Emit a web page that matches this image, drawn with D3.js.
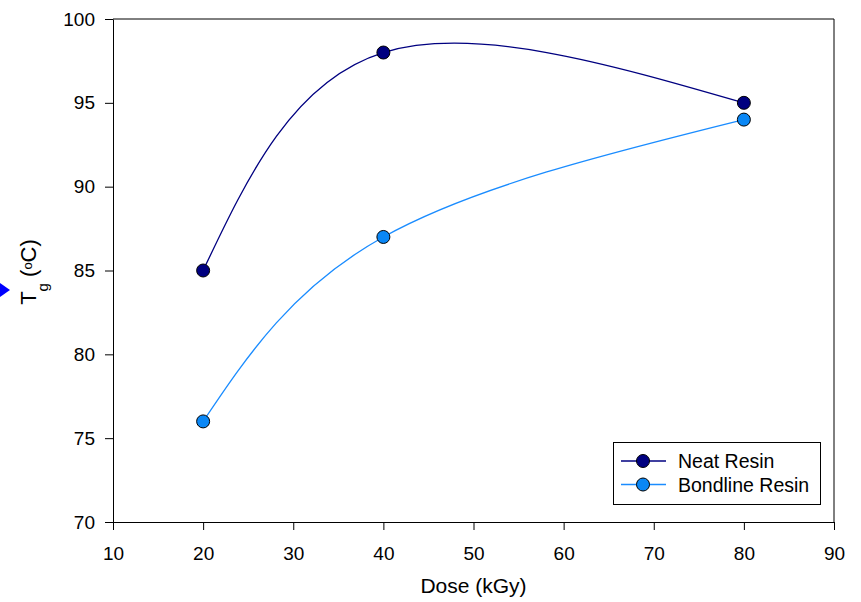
<!DOCTYPE html>
<html>
<head>
<meta charset="utf-8">
<script src="https://cdn.jsdelivr.net/npm/d3@7"></script>
<style>
  body { margin: 0; background: #fff; }
  svg { display: block; font-family: "Liberation Sans", Arial, sans-serif; }
</style>
</head>
<body>
<svg id="chart" width="861" height="602"></svg>
<script>
// Glass transition temperature vs. irradiation dose
const doses = [20, 40, 80];
const neatResin = [85, 98, 95];
const bondlineResin = [76, 87, 94];
const seriesNames = ["Neat Resin", "Bondline Resin"];
const xTicks = [10, 20, 30, 40, 50, 60, 70, 80, 90];
const yTicks = [70, 75, 80, 85, 90, 95, 100];

const svg = d3.select("#chart");
const plotLeft = 113, plotRight = 834, plotTop = 19, plotBottom = 522;
const font = "Liberation Sans, Arial, sans-serif";

const x = d3.scaleLinear().domain([10, 90]).range([plotLeft, plotRight]);
const y = d3.scaleLinear().domain([70, 100]).range([plotBottom, plotTop]);

// frame (top and right edges)
svg.append("path")
  .attr("d", `M${plotLeft},${plotTop}H${plotRight}V${plotBottom}`)
  .attr("fill", "none").attr("stroke", "#000").attr("stroke-width", 1);

const xAxis = svg.append("g")
  .attr("transform", `translate(0,${plotBottom})`)
  .call(d3.axisBottom(x).tickValues(xTicks).tickSize(8).tickSizeOuter(0));
const yAxis = svg.append("g")
  .attr("transform", `translate(${plotLeft},0)`)
  .call(d3.axisLeft(y).tickValues(yTicks).tickSize(8).tickPadding(10).tickSizeOuter(0));
[xAxis, yAxis].forEach(g => {
  g.attr("font-size", 19).attr("font-family", font);
  g.selectAll("text").attr("fill", "#000");
  g.selectAll("line, path").attr("stroke", "#000");
});
xAxis.selectAll("text").attr("y", 38).attr("dy", 0);

// axis titles
svg.append("text")
  .attr("x", (plotLeft + plotRight) / 2).attr("y", 593)
  .attr("text-anchor", "middle").attr("font-size", 21)
  .text("Dose (kGy)");

const yTitle = svg.append("text")
  .attr("transform", "translate(36,272) rotate(-90)")
  .attr("text-anchor", "middle").attr("font-size", 22);
yTitle.append("tspan").text("T");
yTitle.append("tspan").attr("font-size", 15).attr("dy", 12).text("g");
yTitle.append("tspan").attr("dy", -12).text(" (");
yTitle.append("tspan").attr("font-size", 13).attr("dy", -4).text("o");
yTitle.append("tspan").attr("dy", 4).text("C)");

// small marker at left edge
svg.append("path")
  .attr("d", "M0,283L10,290L0,297Z")
  .attr("fill", "#0000ff");

const series = [
  { name: seriesNames[0], values: neatResin, color: "#000080", line: "#000080" },
  { name: seriesNames[1], values: bondlineResin, color: "#0a87f5", line: "#1a8cff" }
];

const line = d3.line()
  .x((d, i) => x(doses[i]))
  .y(d => y(d))
  .curve(d3.curveNatural);

series.forEach(s => {
  svg.append("path")
    .datum(s.values)
    .attr("d", line)
    .attr("fill", "none")
    .attr("stroke", s.line)
    .attr("stroke-width", 1.3);
});
series.forEach(s => {
  svg.selectAll(null)
    .data(s.values)
    .enter().append("circle")
    .attr("cx", (d, i) => x(doses[i]))
    .attr("cy", d => y(d))
    .attr("r", 6.5)
    .attr("fill", s.color)
    .attr("stroke", "#000")
    .attr("stroke-width", 1);
});

// legend
const lg = svg.append("g");
lg.append("rect")
  .attr("x", 613.5).attr("y", 442.5).attr("width", 207).attr("height", 62)
  .attr("fill", "#fff").attr("stroke", "#000").attr("stroke-width", 1);
series.forEach((s, i) => {
  const yy = 461 + i * 23.5;
  lg.append("line")
    .attr("x1", 621).attr("x2", 666).attr("y1", yy).attr("y2", yy)
    .attr("stroke", s.line).attr("stroke-width", 1.3);
  lg.append("circle")
    .attr("cx", 643).attr("cy", yy).attr("r", 6.5)
    .attr("fill", s.color).attr("stroke", "#000");
  lg.append("text")
    .attr("x", 678).attr("y", yy + 7)
    .attr("font-size", 19.5).text(s.name);
});
</script>
</body>
</html>
